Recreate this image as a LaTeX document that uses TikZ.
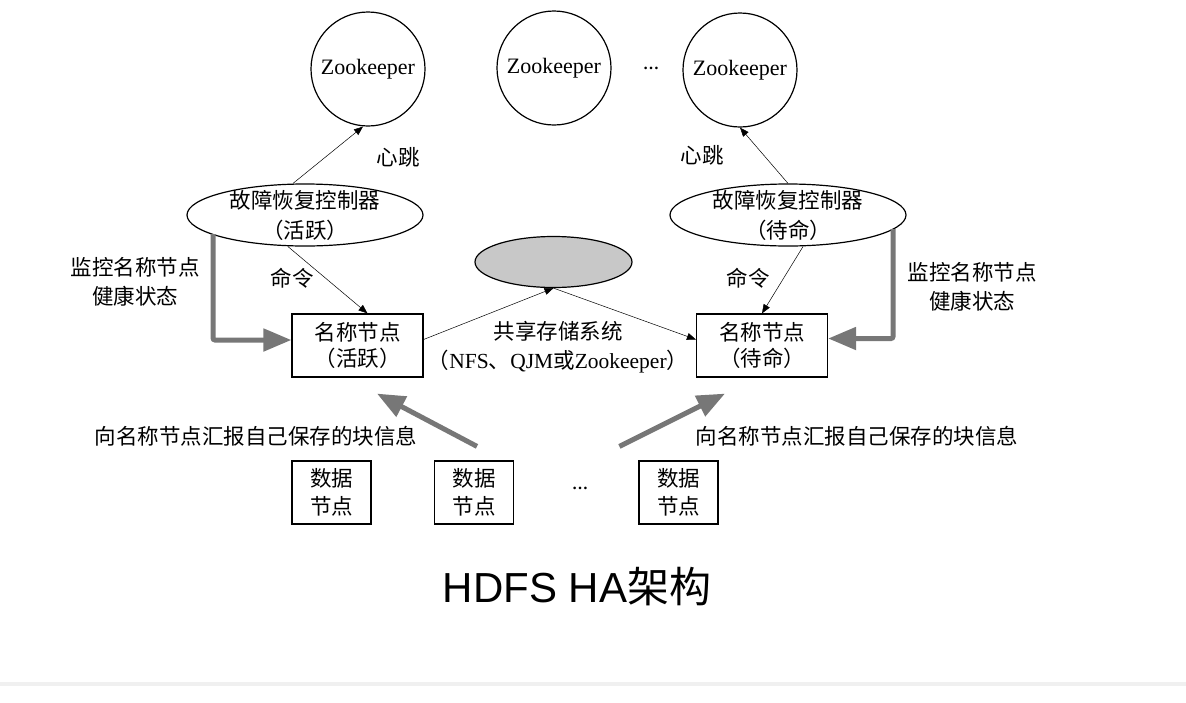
\documentclass[tikz,border=0pt]{standalone}
\usepackage{fontspec}
\setmainfont{Liberation Serif}
\newfontfamily\cjk{Noto Sans CJK SC}
\newfontfamily\headfont{Liberation Sans}
\usetikzlibrary{shapes.geometric,arrows.meta}
\definecolor{ha-gray}{HTML}{777777}
\definecolor{ha-fill}{HTML}{C8C8C8}
\definecolor{ha-band}{HTML}{F0F0F0}

\begin{document}
\begin{tikzpicture}[x=1pt, y=-1pt,
    zk/.style={draw, circle, line width=1.2pt, minimum size=114pt, inner sep=0pt,
               font=\fontsize{22}{26}\selectfont},
    ctrl/.style={draw, ellipse, line width=1.2pt, minimum width=236pt,
                 minimum height=62pt, inner sep=0pt},
    box/.style={draw, line width=1.2pt, minimum width=131pt, minimum height=63pt,
                inner sep=0pt, align=center, font=\cjk\fontsize{21.5}{26.5}\selectfont},
    dbox/.style={box, minimum width=79pt, font=\cjk\fontsize{21.5}{28}\selectfont},
    arr/.style={-{Triangle[length=9pt,width=7pt]}, line width=0.5pt},
    fat/.style={-{Triangle[length=28pt,width=22pt]}, line width=5pt, ha-gray,
                rounded corners=2pt},
    lbl/.style={align=center, inner sep=0pt, font=\cjk\fontsize{21.5}{29}\selectfont},
  ]
    \useasboundingbox (0,0) rectangle (1186,702);

    % Zookeeper ensemble
    \node[zk] (zk1) at (368,69) {Zookeeper};
    \node[zk] (zk2) at (554,68) {Zookeeper};
    \node[font=\fontsize{16}{16}\selectfont\bfseries] (zkdots) at (651,68) {\ldots};
    \node[zk] (zk3) at (740,70) {Zookeeper};

    % Failover controllers
    \node[ctrl] (fc1) at (305,215) {};
    \node[lbl, font=\cjk\fontsize{21.5}{30}\selectfont] (fc1t) at (fc1) {故障恢复控制器\\（活跃）};
    \node[ctrl] (fc2) at (788,215) {};
    \node[lbl, font=\cjk\fontsize{21.5}{30}\selectfont] (fc2t) at (fc2) {故障恢复控制器\\（待命）};

    % Shared storage
    \node[draw, ellipse, line width=1.2pt, fill=ha-fill, minimum width=157pt,
          minimum height=51pt] (store) at (553.5,262) {};
    \node[lbl] (storet) at (558,347)
          {共享存储系统\\{\cjk （}{\fontfamily{\rmdefault}\selectfont NFS}、{\rmfamily QJM}或{\rmfamily Zookeeper}）};

    % Name nodes
    \node[box] (act) at (357.5,345.5) {名称节点\\（活跃）};
    \node[box] (stb) at (762,345.5) {名称节点\\（待命）};

    % Data nodes
    \node[dbox] (dn1) at (331.5,492.5) {数据\\节点};
    \node[dbox] (dn2) at (474,492.5) {数据\\节点};
    \node[font=\fontsize{16}{16}\selectfont\bfseries] (dndots) at (580,488) {\ldots};
    \node[dbox] (dn3) at (678.5,492.5) {数据\\节点};

    % Labels
    \node[lbl] (hb1) at (398,157) {心跳};
    \node[lbl] (hb2) at (702,155) {心跳};
    \node[lbl] (cmd1) at (292,278) {命令};
    \node[lbl] (cmd2) at (748,278) {命令};
    \node[lbl] (mon1) at (135,282) {监控名称节点\\健康状态};
    \node[lbl] (mon2) at (972,287) {监控名称节点\\健康状态};
    \node[lbl] (rep1) at (256,436) {向名称节点汇报自己保存的块信息};
    \node[lbl] (rep2) at (857,436) {向名称节点汇报自己保存的块信息};

    % Arrows
    \draw[arr] ([xshift=-12pt]fc1.north) -- ([xshift=-5pt]zk1.south);
    \draw[arr] (fc2.north) -- (zk3.south);
    \draw[arr] ([xshift=-17pt]fc1.south) -- ([xshift=10pt]act.north);
    \draw[arr] ([xshift=15pt]fc2.south) -- (stb.north);
    \draw[arr] ([yshift=6pt]act.east) -- (store.south);
    \draw[arr] (store.south) -- ([yshift=6pt]stb.west);

    \coordinate (fc1p) at (213,234);
    \coordinate (fc2p) at (893,229);
    \draw[fat] (fc1p) |- ([yshift=5.5pt]act.west);
    \draw[fat] (fc2p) |- ([yshift=7pt]stb.east);
    \draw[fat] ([xshift=3pt,yshift=14pt]dn2.north) -- ([xshift=19.5pt,yshift=-16pt]act.south);
    \draw[fat] ([xshift=-19pt,yshift=14pt]dn3.north west) -- ([xshift=-37pt,yshift=-16pt]stb.south);

    % Caption
    \node[font=\headfont\fontsize{42}{50}\selectfont, anchor=base] (title) at (577,602)
          {HDFS HA{\cjk 架构}};
    \fill[ha-band] (0,682) rectangle (1186,686);
  \end{tikzpicture}
\end{document}
